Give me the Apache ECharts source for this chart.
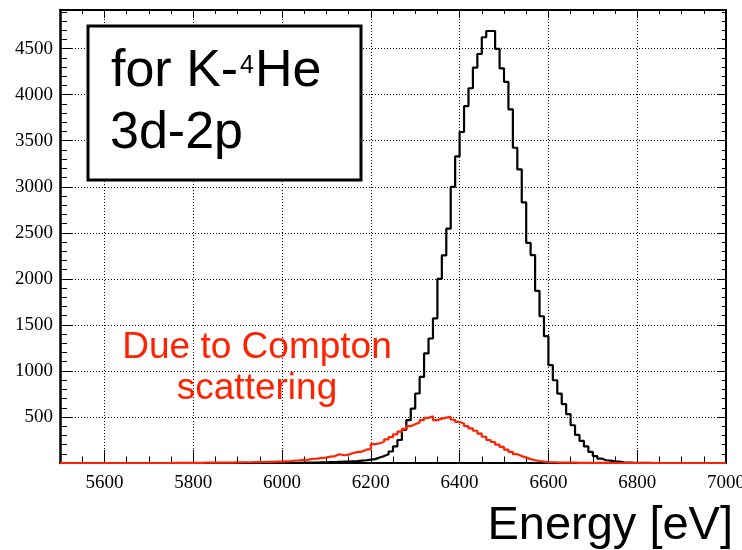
<!DOCTYPE html>
<html><head><meta charset="utf-8">
<script src="https://cdn.jsdelivr.net/npm/echarts@6/dist/echarts.min.js"></script>
<style>html,body{margin:0;padding:0;background:#fff}#c{width:742px;height:550px}</style>
</head><body><div id="c"></div>
<script>
// Histogram binning (eV)
const binStart = 5500;
const binWidth = 10;
const xRange = [5500, 7000];
const yRange = [0, 4920];

// K-4He 3d-2p total spectrum (counts per 10 eV bin, from 5500 eV)
const blackCounts = [
  0,0,0,0,0,0,0,0,0,0,            // 5500
  0,0,0,0,0,0,0,0,0,0,            // 5600
  0,0,0,0,0,0,0,0,0,0,            // 5700
  0,0,0,0,0,0,0,0,0,0,            // 5800
  0,0,0,0,0,1,1,1,1,1,            // 5900
  1,2,2,2,3,3,4,5,6,7,            // 6000
  9,10,12,14,16,18,20,25,30,36,   // 6100
  42,60,75,95,125,180,250,360,465,590,          // 6200
  755,935,1190,1352,1570,2000,2255,2545,3000,3330, // 6300
  3595,3875,4070,4295,4442,4624,4692,4692,4497,4287, // 6400
  4140,3841,3424,3189,2830,2391,2258,1870,1594,1377, // 6500
  1062,899,754,640,530,410,305,240,180,120,     // 6600
  75,48,30,25,18,15,8,5,3,2,      // 6700
  1,1,1,0,0,0,0,0,0,0,            // 6800
  0,0,0,0,0,0,0,0,0,0             // 6900
];

// Compton scattering component
const redCounts = [
  0,0,0,0,0,0,0,0,0,0,            // 5500
  0,0,0,0,0,0,0,0,0,0,            // 5600
  0,0,0,0,0,1,1,1,1,1,            // 5700
  2,2,3,3,3,4,4,5,5,6,            // 5800
  7,8,8,9,10,11,12,13,15,16,      // 5900
  18,19,27,29,35,37,46,48,56,58,  // 6000
  70,75,95,84,90,109,118,124,145,150, // 6100
  205,215,230,256,280,310,340,370,400,420, // 6200
  440,466,490,507,466,482,493,500,470,446, // 6300
  428,400,375,350,320,285,250,228,200,175, // 6400
  145,120,96,75,58,42,30,22,15,10, // 6500
  8,6,5,4,3,3,2,2,1,1,            // 6600
  1,1,1,0,0,0,0,0,0,0,            // 6700
  0,0,0,0,0,0,0,0,0,0,            // 6800
  0,0,0,0,0,0,0,0,0,0             // 6900
];

const boxLines = ['for K-', '4', 'He', '3d-2p'];
const noteLines = ['Due to Compton', 'scattering'];
const xTitle = 'Energy [eV]';

function toSteps(counts) {
  const pts = counts.map((v, i) => [binStart + i * binWidth, v]);
  pts.push([binStart + counts.length * binWidth, counts[counts.length - 1]]);
  return pts;
}

const serif = 'Liberation Serif';
const sans = 'Liberation Sans';
const RED = '#ff2200';
const dotted = {color: '#000', width: 1, type: [1, 2]};

function xAx(pos, opts) {
  return Object.assign({
    type: 'value', position: pos, min: xRange[0], max: xRange[1],
    axisLine: {show: false, onZero: false},
    axisTick: {show: true, inside: true, length: 6, lineStyle: {color: '#000', width: 1}},
    axisLabel: {show: false},
    splitLine: {show: false}
  }, opts);
}
function yAx(pos, opts) {
  return Object.assign({
    type: 'value', position: pos, min: yRange[0], max: yRange[1],
    axisLine: {show: false, onZero: false},
    axisTick: {show: true, inside: true, length: 7, lineStyle: {color: '#000', width: 1}},
    axisLabel: {show: false},
    splitLine: {show: false}
  }, opts);
}

const chart = echarts.init(document.getElementById('c'), null, {renderer: 'canvas'});
chart.setOption({
  animation: false,
  backgroundColor: '#fff',
  grid: {left: 60, right: 16, top: 10, bottom: 87, containLabel: false, outerBoundsMode: 'none'},
  xAxis: [
    xAx('bottom', {
      splitNumber: 7,
      axisLine: {show: true, onZero: false, lineStyle: {color: '#000', width: 2}},
      axisTick: {show: true, inside: true, length: 13, lineStyle: {color: '#000', width: 1}},
      axisLabel: {show: true, margin: 11, color: '#000', fontFamily: serif, fontSize: 19,
                  showMinLabel: false, showMaxLabel: true, formatter: v => String(v)},
      splitLine: {show: true, lineStyle: dotted}
    }),
    xAx('bottom', {interval: 50, axisTick: {show: true, inside: true, length: 6.5, lineStyle: {color: '#000', width: 1}}}),
    xAx('top', {splitNumber: 7,
      axisLine: {show: true, onZero: false, lineStyle: {color: '#000', width: 2}},
      axisTick: {show: true, inside: true, length: 8, lineStyle: {color: '#000', width: 1}}}),
    xAx('top', {interval: 50, axisTick: {show: true, inside: true, length: 4, lineStyle: {color: '#000', width: 1}}})
  ],
  yAxis: [
    yAx('left', {
      interval: 500,
      axisLine: {show: true, onZero: false, lineStyle: {color: '#000', width: 2.5}},
      axisTick: {show: true, inside: true, length: 13, lineStyle: {color: '#000', width: 1}},
      axisLabel: {show: true, margin: 7, color: '#000', fontFamily: serif, fontSize: 19,
                  showMinLabel: false, showMaxLabel: false, formatter: v => String(v)},
      splitLine: {show: true, lineStyle: dotted}
    }),
    yAx('left', {interval: 100, axisTick: {show: true, inside: true, length: 7, lineStyle: {color: '#000', width: 1}}}),
    yAx('right', {interval: 500,
      axisLine: {show: true, onZero: false, lineStyle: {color: '#000', width: 2}},
      axisTick: {show: true, inside: true, length: 8, lineStyle: {color: '#000', width: 1}}}),
    yAx('right', {interval: 100, axisTick: {show: true, inside: true, length: 4, lineStyle: {color: '#000', width: 1}}})
  ],
  series: [
    {type: 'line', name: 'total', xAxisIndex: 0, yAxisIndex: 0, step: 'end', symbol: 'none',
     data: toSteps(blackCounts), lineStyle: {color: '#000', width: 2.2}, z: 3},
    {type: 'line', name: 'compton', xAxisIndex: 0, yAxisIndex: 0, step: 'end', symbol: 'none',
     data: toSteps(redCounts), lineStyle: {color: RED, width: 2.2}, z: 4}
  ],
  graphic: [
    {type: 'rect', shape: {x: 88, y: 26, width: 273, height: 154},
     style: {fill: '#fff', stroke: '#000', lineWidth: 3}, z: 100},
    {type: 'text', x: 111, y: 72, z: 101,
     style: {text: boxLines[0], fontSize: 52, fontFamily: sans, fill: '#000', align: 'left', verticalAlign: 'middle'}},
    {type: 'text', x: 240, y: 66, z: 101,
     style: {text: boxLines[1], fontSize: 25, fontFamily: sans, fill: '#000', align: 'left', verticalAlign: 'middle'}},
    {type: 'text', x: 255, y: 72, z: 101,
     style: {text: boxLines[2], fontSize: 52, fontFamily: sans, fill: '#000', align: 'left', verticalAlign: 'middle'}},
    {type: 'text', x: 110, y: 134, z: 101,
     style: {text: boxLines[3], fontSize: 52, fontFamily: sans, fill: '#000', align: 'left', verticalAlign: 'middle'}},
    {type: 'text', x: 257, y: 348, z: 101,
     style: {text: noteLines[0], fontSize: 37, fontFamily: sans, fill: RED, align: 'center', verticalAlign: 'middle'}},
    {type: 'text', x: 257, y: 389, z: 101,
     style: {text: noteLines[1], fontSize: 37, fontFamily: sans, fill: RED, align: 'center', verticalAlign: 'middle'}},
    {type: 'text', x: 733, y: 526, z: 101,
     style: {text: xTitle, fontSize: 47, fontFamily: sans, fill: '#000', align: 'right', verticalAlign: 'middle'}}
  ]
});
</script>
</body></html>
